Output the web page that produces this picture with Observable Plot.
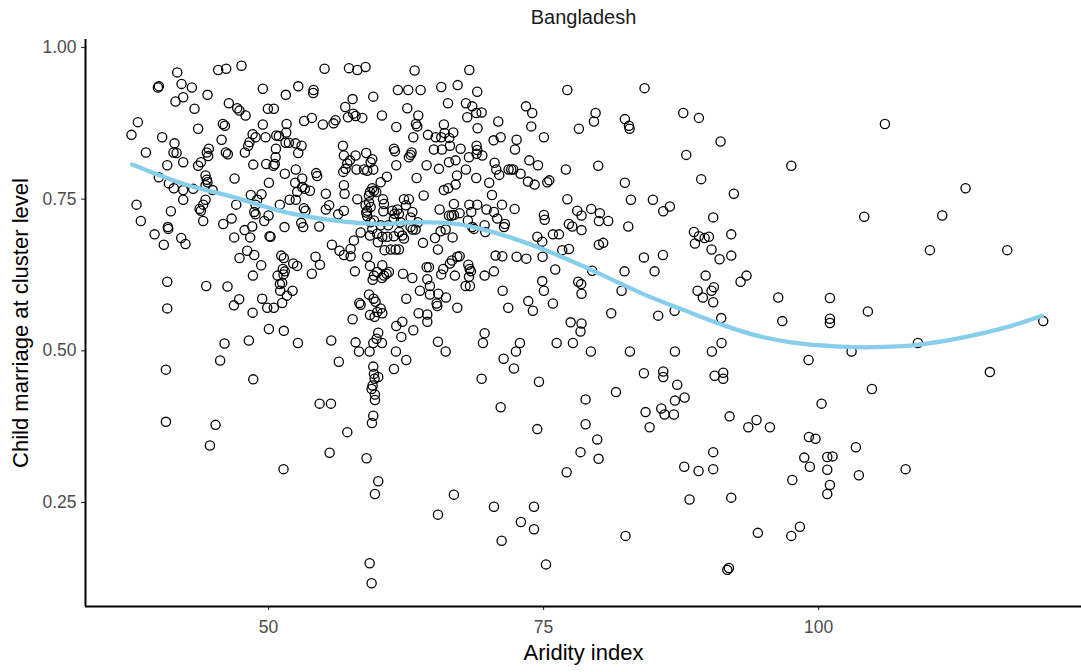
<!DOCTYPE html>
<html><head><meta charset="utf-8">
<script src="https://cdn.jsdelivr.net/npm/d3@7"></script>
<script src="https://cdn.jsdelivr.net/npm/@observablehq/plot@0.6"></script>
<style>body{margin:0;background:#fff;}</style>
</head><body><div id="chart"></div>
<script>
const aridity = [
41.70,45.42,46.15,47.54,55.09,40.03,39.94,42.09,43.03,49.48,
52.70,54.09,54.06,51.57,44.45,42.24,41.54,43.27,46.39,47.15,
47.36,47.91,49.94,50.48,38.12,37.54,43.60,45.85,46.03,49.48,
51.64,51.61,53.24,53.94,54.94,55.91,56.09,40.33,41.45,41.36,
41.64,38.85,45.73,44.57,44.39,44.51,46.12,46.30,47.85,48.55,
48.27,48.15,48.82,49.73,50.70,50.94,50.67,50.64,51.55,51.85,
52.45,53.00,52.70,40.79,42.24,43.60,43.85,48.61,49.79,50.45,
50.57,51.48,52.48,54.33,54.42,40.03,40.94,41.39,42.24,43.15,
44.27,44.39,44.45,44.27,44.91,46.91,50.03,52.42,53.06,52.60,
53.06,53.30,53.76,55.21,48.39,49.36,48.97,48.82,38.00,41.12,
42.24,44.27,44.06,43.73,43.85,47.06,48.70,48.82,51.03,51.91,
52.48,53.21,53.36,55.21,55.51,56.33,38.39,40.85,40.88,44.06,
45.88,46.64,47.82,48.52,48.33,49.61,50.00,50.09,50.18,51.45,
52.97,53.15,54.61,39.64,40.48,42.06,42.45,46.88,48.06,47.36,
48.70,49.33,48.58,51.15,51.39,52.24,52.60,51.30,51.48,51.36,
50.82,51.24,51.03,52.18,51.67,51.06,51.24,53.94,54.27,54.67,
55.76,56.45,40.79,44.33,46.27,40.79,46.85,47.33,48.55,49.42,
49.88,50.48,50.03,51.39,
57.31,58.07,58.82,63.28,68.25,61.76,62.70,63.82,65.70,67.19,
68.97,77.16,57.64,59.52,56.97,62.61,66.31,67.94,68.52,73.40,
73.97,68.88,69.37,60.31,57.22,57.70,57.91,58.52,63.61,68.06,
70.88,63.40,63.52,61.61,65.94,69.00,73.88,63.16,64.49,65.19,
65.70,66.00,66.79,66.43,70.46,71.10,72.55,75.03,56.76,61.40,
61.49,65.03,65.76,66.49,67.46,68.91,68.97,68.91,69.43,72.40,
63.00,62.91,62.76,56.85,57.91,57.40,57.16,58.88,59.43,59.28,
68.22,73.70,66.40,67.00,70.55,74.49,61.61,64.37,65.49,57.00,
56.79,58.00,58.67,58.97,59.52,67.94,70.70,71.82,72.06,72.25,
77.03,72.91,70.97,67.13,60.76,63.46,68.88,73.58,74.19,75.34,
75.52,60.19,56.85,67.00,70.06,59.43,59.58,59.22,59.79,59.13,
66.34,65.94,56.91,64.10,70.31,58.07,60.40,62.31,62.76,68.25,
68.97,71.22,77.16,66.85,59.13,58.82,59.28,60.49,62.49,56.85,
58.97,58.88,60.43,61.25,61.70,61.46,61.85,63.07,65.55,69.82,
70.49,72.37,68.43,66.40,66.64,66.85,67.37,75.03,75.10,70.79,
58.97,61.40,62.91,68.12,59.28,59.58,62.00,63.58,71.49,71.40,
60.19,60.88,68.52,68.67,69.64,69.70,62.91,63.10,63.37,65.64,
66.10,59.43,58.37,61.88,59.88,60.34,59.22,60.79,61.40,62.16,
62.31,65.13,66.73,75.85,76.40,74.43,57.76,59.94,74.88,64.04,
57.46,60.55,61.10,61.55,61.85,65.40,76.70,77.31,56.85,57.46,
58.97,67.16,67.37,70.64,71.25,72.55,73.43,74.91,66.67,66.49,
60.34,59.22,64.37,64.58,68.16,68.28,68.40,65.88,76.06,57.85,
59.88,60.94,60.73,62.22,65.70,66.94,69.64,70.49,59.58,60.49,
60.31,63.07,64.43,59.46,68.22,74.88,64.67,67.91,68.31,63.76,
71.28,75.03,64.67,65.43,66.13,59.13,59.55,62.52,73.61,58.25,
58.37,59.73,75.85,65.28,65.34,67.16,60.19,71.79,59.88,60.34,
63.64,74.03,59.22,59.64,64.43,57.64,64.43,62.16,77.46,61.61,
63.16,59.97,69.64,
84.18,79.73,79.58,78.21,82.39,82.76,82.82,87.70,89.12,91.09,
87.97,79.97,97.52,82.39,89.33,92.30,82.94,84.94,86.48,85.88,
78.06,78.45,79.33,80.12,80.03,80.88,82.70,77.30,77.61,78.45,
90.42,88.67,89.12,89.64,90.03,88.76,92.06,90.27,91.00,92.06,
80.03,80.42,84.12,85.85,82.36,85.09,79.42,78.15,78.42,78.45,
82.09,89.73,89.00,89.48,90.27,90.48,90.42,92.91,93.45,96.33,
96.70,81.15,85.42,86.91,91.15,78.45,78.36,
106.03,113.36,104.15,111.24,110.12,117.15,101.03,104.48,101.03,101.03,120.42,
46.00,48.21,52.67,55.70,45.60,56.39,40.67,48.61,54.64,55.67,
40.67,45.18,44.67,55.55,51.36,
57.91,58.22,59.19,59.52,59.82,60.31,62.07,61.58,62.52,61.40,
59.52,59.58,59.97,59.64,59.46,59.37,59.67,59.67,59.52,59.40,
57.16,58.91,59.97,59.67,59.19,59.37,65.40,66.10,69.49,69.37,
71.37,72.49,72.85,72.31,76.19,74.58,71.10,74.43,77.10,66.85,
65.40,70.49,74.13,72.94,74.13,71.19,75.22,
77.67,79.30,82.85,86.94,90.30,91.18,99.09,84.12,85.88,85.88,
90.55,91.33,91.33,87.15,81.58,78.82,86.94,87.82,84.27,85.70,
86.00,86.85,84.64,78.82,91.91,94.36,93.61,95.58,79.88,78.36,
80.00,90.42,87.79,89.09,90.42,99.12,98.70,99.21,97.61,88.27,
92.06,82.45,94.48,97.52,98.30,91.70,91.85,
103.00,109.03,115.57,104.85,100.27,99.72,103.39,100.79,101.27,100.79,
103.66,107.91,101.03,100.79
];
const childMarriage = [
.959,.963,.965,.970,.965,.936,.934,.940,.934,.932,
.936,.930,.925,.922,.922,.918,.911,.899,.908,.900,
.896,.888,.899,.899,.877,.856,.866,.874,.871,.873,
.874,.860,.879,.884,.873,.875,.880,.852,.842,.827,
.826,.827,.848,.833,.827,.821,.827,.824,.827,.857,
.844,.838,.852,.852,.855,.854,.833,.819,.843,.843,
.842,.838,.826,.806,.811,.805,.811,.807,.808,.805,
.808,.792,.799,.793,.788,.786,.776,.768,.765,.767,
.789,.782,.778,.773,.765,.784,.777,.777,.784,.762,
.770,.767,.764,.759,.757,.758,.749,.741,.741,.730,
.749,.749,.741,.734,.731,.741,.729,.725,.741,.749,
.749,.735,.731,.733,.740,.725,.714,.704,.701,.714,
.709,.718,.699,.705,.687,.714,.723,.689,.688,.704,
.711,.704,.705,.692,.675,.686,.676,.687,.665,.653,
.658,.641,.624,.657,.653,.644,.640,.635,.631,.626,
.624,.612,.610,.599,.591,.599,.579,.627,.655,.642,
.675,.665,.614,.607,.606,.570,.575,.585,.563,.586,
.571,.571,.536,.533,
.966,.963,.968,.962,.963,.930,.930,.930,.935,.938,
.927,.930,.915,.919,.902,.900,.908,.908,.903,.903,
.892,.892,.893,.888,.885,.891,.887,.884,.888,.885,
.878,.874,.870,.869,.873,.867,.870,.852,.856,.852,
.852,.859,.860,.851,.847,.852,.848,.852,.838,.833,
.829,.832,.832,.838,.833,.838,.831,.825,.822,.832,
.827,.823,.819,.822,.822,.814,.809,.826,.816,.811,
.819,.814,.811,.814,.810,.806,.806,.806,.800,.800,
.795,.799,.799,.797,.799,.799,.799,.799,.799,.799,
.799,.792,.790,.789,.787,.785,.785,.779,.774,.778,
.781,.778,.773,.774,.777,.768,.764,.762,.762,.756,
.768,.765,.759,.756,.757,.750,.750,.750,.750,.741,
.741,.741,.750,.742,.745,.740,.737,.742,.740,.731,
.731,.728,.730,.731,.733,.726,.726,.729,.733,.733,
.729,.734,.729,.723,.723,.724,.727,.724,.716,.718,
.722,.718,.720,.715,.712,.715,.712,.712,.709,.704,
.707,.707,.704,.701,.707,.696,.704,.700,.700,.697,
.700,.701,.695,.696,.693,.688,.690,.688,.689,.690,
.685,.686,.687,.692,.692,.688,.682,.679,.680,.678,
.668,.666,.667,.667,.667,.667,.666,.668,.658,.656,
.655,.655,.656,.657,.656,.655,.652,.655,.649,.644,
.641,.640,.638,.638,.642,.635,.631,.635,.634,.631,
.630,.630,.627,.627,.626,.624,.624,.631,.624,.624,
.620,.620,.618,.617,.622,.615,.607,.607,.607,.599,
.599,.599,.593,.594,.588,.593,.586,.586,.582,.579,
.576,.581,.578,.578,.574,.571,.570,.571,.564,.562,
.562,.566,.559,.556,.560,.552,.548,.548,.547,.541,
.534,.530,.529,
.933,.892,.878,.866,.882,.871,.866,.892,.884,.845,
.823,.805,.805,.777,.783,.759,.749,.749,.738,.730,
.731,.723,.734,.727,.714,.714,.705,.709,.705,.699,
.720,.696,.689,.686,.688,.677,.692,.667,.651,.657,
.675,.678,.654,.658,.631,.631,.632,.614,.610,.594,
.599,.624,.599,.588,.599,.605,.580,.614,.624,.588,
.549,.562,.558,.566,.554,.545,.532,
.874,.768,.721,.723,.666,.666,.587,.565,.553,.546,.549,
.512,.517,.513,.517,.484,.482,.469,.453,.413,.413,
.383,.378,.344,.332,.305,
.514,.499,.499,.513,.520,.513,.523,.499,.485,.470,
.474,.462,.457,.454,.443,.437,.428,.419,.393,.381,
.366,.323,.285,.264,.150,.117,.515,.499,.513,.454,
.487,.499,.513,.471,.513,.449,.407,.371,.300,.263,
.230,.243,.243,.218,.206,.187,.148,
.513,.499,.499,.499,.499,.513,.485,.463,.466,.457,
.459,.464,.454,.444,.432,.420,.418,.423,.399,.405,
.395,.395,.374,.379,.392,.386,.374,.374,.354,.333,
.322,.333,.309,.302,.305,.358,.324,.309,.287,.255,
.258,.195,.200,.195,.210,.139,.142,
.499,.513,.465,.437,.413,.355,.341,.325,.326,.304,
.295,.305,.279,.264
];
const smoothAridity = [37.6,42.3,46.9,51.4,55.9,60.2,63.2,67.2,69.3,72.3,75.3,78.4,81.4,84.4,87.5,91.4,94.4,97.5,102.0,105.0,109.0,112.6,117.1,120.3];
const smoothFit = [0.807,0.775,0.753,0.729,0.715,0.709,0.712,0.709,0.701,0.685,0.665,0.641,0.616,0.591,0.569,0.542,0.525,0.514,0.507,0.506,0.510,0.520,0.539,0.558];
const xTicks = [50, 75, 100];
const yTicks = [0.25, 0.50, 0.75, 1.00];
const panelTitle = "Bangladesh";
const xTitle = "Aridity index";
const yTitle = "Child marriage at cluster level";

const n = Math.min(aridity.length, childMarriage.length);
const points = d3.range(n).map(i => ({a: aridity[i], c: childMarriage[i]}));
const fit = smoothAridity.map((a, i) => ({a, c: smoothFit[i]}));
const xDomain = [33.36, 123.9];
const yDomain = [0.0786, 1.0132];

const chart = Plot.plot({
  width: 1081, height: 672,
  marginLeft: 85, marginRight: 0, marginTop: 39, marginBottom: 66,
  style: {fontFamily: "'Liberation Sans', Arial, sans-serif", background: "white", overflow: "visible"},
  x: {domain: xDomain, label: null},
  y: {domain: yDomain, label: null},
  marks: [
    Plot.axisX({ticks: xTicks, tickSize: 4, tickPadding: 10, fontSize: 17.5, fill: "#4d4d4d", stroke: "#333333", strokeWidth: 1.1, tickFormat: d => String(d), label: null}),
    Plot.axisY({ticks: yTicks, tickSize: 4, tickPadding: 5, fontSize: 17.5, fill: "#4d4d4d", stroke: "#333333", strokeWidth: 1.1, tickFormat: d => d.toFixed(2), label: null}),
    Plot.dot(points, {x: "a", y: "c", r: 4.6, stroke: "black", strokeWidth: 1.3, fill: "none"}),
    Plot.line(fit, {x: "a", y: "c", stroke: "#87CEEB", strokeWidth: 4.3, curve: "catmull-rom"}),
    Plot.ruleX([xDomain[0]], {stroke: "black", strokeWidth: 2}),
    Plot.ruleY([yDomain[0]], {stroke: "black", strokeWidth: 2}),
    Plot.text([panelTitle], {text: d => d, frameAnchor: "top", lineAnchor: "middle", dy: -22, fontSize: 20, fill: "#1a1a1a"}),
    Plot.text([xTitle], {text: d => d, frameAnchor: "bottom", lineAnchor: "middle", dy: 46, fontSize: 22, fill: "black"}),
    Plot.text([yTitle], {text: d => d, frameAnchor: "left", textAnchor: "middle", lineAnchor: "middle", dx: -65, rotate: -90, fontSize: 22, fill: "black"})
  ]
});
document.getElementById("chart").appendChild(chart);
if (aridity.length !== childMarriage.length) console.error("length mismatch", aridity.length, childMarriage.length);
</script>
</body></html>
